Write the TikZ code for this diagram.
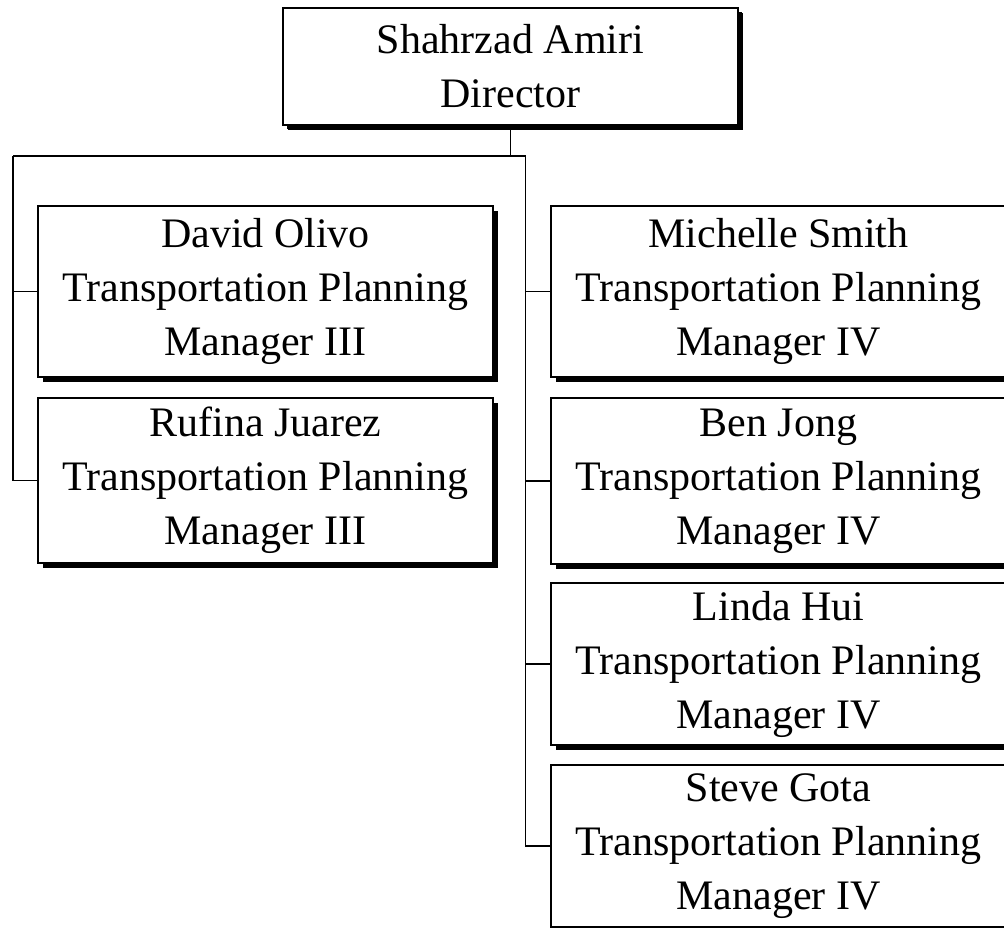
\documentclass[tikz,border=0pt]{standalone}
\usepackage{fontspec}
\setmainfont{Liberation Serif}
\usetikzlibrary{shadows}
\begin{document}
\begin{tikzpicture}[x=1pt,y=-1pt,
  box/.style={draw, line width=1.6pt, fill=white, align=center, inner sep=0pt,
    minimum width=455pt, font=\fontsize{42}{54}\selectfont,
    drop shadow={shadow xshift=5pt, shadow yshift=-5pt, opacity=1, fill=black}},
  conn/.style={line width=1.8pt}]
\useasboundingbox (0,0) rectangle (1004,928);
\node[box, minimum height=117pt,
  drop shadow={shadow xshift=4pt, shadow yshift=-4pt, opacity=1, fill=black}]
  (top) at (510.5,66.5) {Shahrzad Amiri\\Director};
\node[box, minimum height=171pt] (david) at (265.5,291.5) {David Olivo\\Transportation Planning\\Manager III};
\node[box, minimum height=165pt] (rufina) at (265.5,480.5) {Rufina Juarez\\Transportation Planning\\Manager III};
\node[box, minimum height=171pt] (michelle) at (778.5,291.5) {Michelle Smith\\Transportation Planning\\Manager IV};
\node[box, minimum height=166pt] (ben) at (778.5,481) {Ben Jong\\Transportation Planning\\Manager IV};
\node[box, minimum height=162pt] (linda) at (778.5,664) {Linda Hui\\Transportation Planning\\Manager IV};
\node[box, minimum height=162pt] (steve) at (778.5,846) {Steve Gota\\Transportation Planning\\Manager IV};
\coordinate (jl) at (13,156);
\coordinate (jr) at (525.5,156);
\draw[conn] (top.south) |- (jr);
\draw[conn] (jl) -- (jr);
\draw[conn] (jl) |- (rufina.west);
\draw[conn] (jl |- david.west) -- (david.west);
\draw[conn] (jr) |- (steve.west);
\draw[conn] (jr |- michelle.west) -- (michelle.west);
\draw[conn] (jr |- ben.west) -- (ben.west);
\draw[conn] (jr |- linda.west) -- (linda.west);
\end{tikzpicture}
\end{document}
